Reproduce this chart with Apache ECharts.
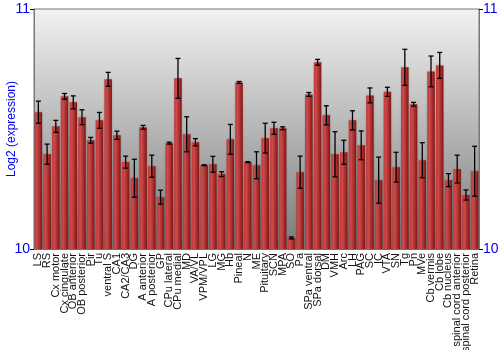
<!DOCTYPE html>
<html><head><meta charset="utf-8">
<script src="https://cdn.jsdelivr.net/npm/echarts@6/dist/echarts.min.js"></script>
<style>html,body{margin:0;padding:0;background:#fff}#c{width:500px;height:350px}</style>
</head><body><div id="c"></div>
<script>
const categories = ["LS","RS","Cx motor","Cx cingulate","OB anterior","OB posterior","Pir","Tu","ventral S","CA1","CA2/CA3","DG","A anterior","A posterior","GP","CPu lateral","CPu medial","MD","VA/VL","VPM/VPL","LG","MG","Hb","Pineal","N","ME","Pituitary","SCN","MPA","SO","Pa","SPa ventral","SPa dorsal","DM","VMH","Arc","LH","PAG","SC","IC","VTA","SN","Tg","Pn","MVe","Cb vermis","Cb lobe","Cb nucleus","spinal cord anterior","spinal cord posterior","Retina"];
const means = [10.570,10.395,10.511,10.636,10.611,10.549,10.453,10.536,10.707,10.474,10.362,10.295,10.507,10.345,10.216,10.441,10.711,10.478,10.445,10.349,10.353,10.312,10.457,10.694,10.362,10.349,10.462,10.503,10.503,10.046,10.320,10.644,10.778,10.557,10.395,10.403,10.536,10.432,10.640,10.287,10.655,10.341,10.757,10.603,10.370,10.740,10.765,10.287,10.333,10.225,10.324];
const errors = [0.046,0.042,0.025,0.012,0.027,0.031,0.012,0.033,0.029,0.017,0.025,0.079,0.008,0.046,0.029,0.004,0.083,0.073,0.015,0.002,0.033,0.010,0.062,0.004,0.002,0.056,0.062,0.025,0.006,0.004,0.067,0.008,0.012,0.040,0.094,0.050,0.040,0.060,0.031,0.096,0.019,0.062,0.075,0.008,0.073,0.064,0.054,0.027,0.058,0.021,0.104];
const yTicks = [10, 11];

const chart = echarts.init(document.getElementById('c'), null, {renderer:'canvas'});
const errData = means.map((m,i)=>[i, m-errors[i], m+errors[i]]);
const blue = '#0000ee';
const yAxisBase = {
  type:'value', min:yTicks[0], max:yTicks[1], interval:1,
  axisLine:{show:true, lineStyle:{color:'#777', width:1}},
  axisTick:{show:true, length:4, lineStyle:{color:'#000'}},
  splitLine:{show:false},
  axisLabel:{color:blue, fontSize:14, fontFamily:'Liberation Sans, Arial', margin:4}
};
chart.setOption({
  animation:false,
  grid:{left:34, right:21, top:9, bottom:101, containLabel:false, outerBoundsMode:'none',
    show:true, borderColor:'#777', borderWidth:1,
    backgroundColor:{type:'linear', x:0, y:0, x2:0, y2:1, colorStops:[{offset:0,color:'#f2f2f2'},{offset:1,color:'#7a7a7a'}]}},
  xAxis:{type:'category', data:categories,
    axisLine:{show:true, lineStyle:{color:'#777'}}, axisTick:{show:false},
    axisLabel:{rotate:90, interval:0, fontSize:11, color:'#111', fontFamily:'Liberation Sans, Arial', margin:4}},
  yAxis:[
    Object.assign({}, yAxisBase, {position:'left', name:'Log2 (expression)', nameLocation:'middle', nameGap:22,
      nameMoveOverlap:false,
      nameTextStyle:{color:blue, fontSize:12, fontFamily:'Liberation Sans, Arial', verticalAlign:'middle'}}),
    Object.assign({}, yAxisBase, {position:'right'})
  ],
  series:[
    {type:'bar', data:means, barCategoryGap:'14%',
      itemStyle:{color:{type:'linear', x:0, y:0, x2:1, y2:0, colorStops:[
        {offset:0,color:'#c03838'},{offset:0.3,color:'#cc4a4a'},{offset:0.7,color:'#a82a2a'},{offset:1,color:'#7a1616'}]},
        shadowColor:'rgba(0,0,0,0.25)', shadowBlur:2}},
    {type:'custom', data:errData, z:5,
      renderItem:function(params, api){
        const x = api.value(0);
        const lo = api.coord([x, api.value(1)]);
        const hi = api.coord([x, api.value(2)]);
        const w = 2.5;
        const st = {stroke:'#000', lineWidth:1.3};
        return {type:'group', children:[
          {type:'line', shape:{x1:lo[0], y1:lo[1], x2:hi[0], y2:hi[1]}, style:st},
          {type:'line', shape:{x1:lo[0]-w, y1:lo[1], x2:lo[0]+w, y2:lo[1]}, style:st},
          {type:'line', shape:{x1:hi[0]-w, y1:hi[1], x2:hi[0]+w, y2:hi[1]}, style:st}
        ]};
      }}
  ]
});
</script></body></html>
